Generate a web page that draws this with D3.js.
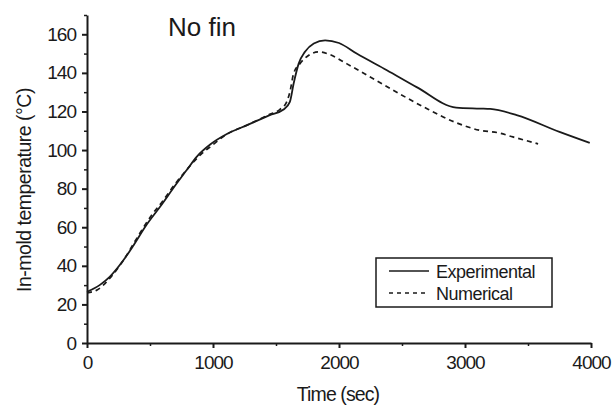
<!DOCTYPE html>
<html>
<head>
<meta charset="utf-8">
<script src="https://cdn.jsdelivr.net/npm/d3@7"></script>
<style>
  body { margin: 0; background: #fff; }
  text { font-family: "Liberation Sans", Arial, sans-serif; fill: #1a1a1a; }
</style>
</head>
<body>
<script>
let w = 613;
let h = 407;

// experimental curve (time in sec, temperature in C)
let expTime = [0, 100, 180, 290, 370, 470, 580, 710, 790, 870, 980, 1110, 1270, 1450, 1560, 1610, 1640, 1680, 1730, 1800, 1890, 2000, 2140, 2380, 2620, 2930, 3120, 3200, 3410, 3750, 3990];
let expTemp = [26.5, 30, 34.3, 43, 50.7, 61, 70.6, 82.5, 89.5, 96.5, 103, 108.3, 112.9, 118.1, 121, 125, 134.5, 144.8, 150.9, 155.2, 156.9, 155.5, 150, 141.4, 132.5, 122, 121.5, 121.3, 118.1, 109.4, 103.7];

// numerical curve
let numTime = [0, 80, 200, 300, 400, 510, 600, 700, 800, 900, 1000, 1100, 1270, 1450, 1530, 1585, 1610, 1640, 1690, 1760, 1840, 1920, 2060, 2350, 2670, 2930, 3120, 3260, 3380, 3580];
let numTemp = [26, 27.5, 35, 44, 54.8, 66, 73.5, 82.5, 90.5, 97.5, 102.8, 107.8, 112.9, 118.5, 121, 125, 130, 139.7, 144.8, 149.1, 150.9, 149.7, 144.8, 134, 122.4, 114.2, 110.2, 109, 106.8, 103.2];

let xTicks = [0, 1000, 2000, 3000, 4000];
let yTicks = [0, 20, 40, 60, 80, 100, 120, 140, 160];
let legendNames = ["Experimental", "Numerical"];

let ink = "#1a1a1a";

let svg = d3.select("body")
            .append("svg")
            .attr("width", w)
            .attr("height", h);

let xScale = d3.scaleLinear()
               .domain([0, 4000])
               .range([87, 591]);

let yScale = d3.scaleLinear()
               .domain([0, 170])
               .range([343, 15]);

// minor ticks first so the main axis draws over them
svg.append("g")
   .attr("transform", "translate(0," + yScale(0) + ")")
   .call(d3.axisBottom(xScale).tickValues([500, 1500, 2500, 3500]).tickSize(3).tickFormat("").tickSizeOuter(0))
   .call(g => g.select(".domain").remove())
   .call(g => g.selectAll("line").attr("stroke", ink).attr("stroke-width", 1.5));

svg.append("g")
   .attr("transform", "translate(" + xScale(0) + ",0)")
   .call(d3.axisLeft(yScale).tickValues(d3.range(10, 171, 20)).tickSize(3).tickFormat("").tickSizeOuter(0))
   .call(g => g.select(".domain").remove())
   .call(g => g.selectAll("line").attr("stroke", ink).attr("stroke-width", 1.5));

let xAxis = d3.axisBottom(xScale)
              .tickValues(xTicks)
              .tickFormat(d3.format("d"))
              .tickSize(5)
              .tickPadding(8)
              .tickSizeOuter(0);

let yAxis = d3.axisLeft(yScale)
              .tickValues(yTicks)
              .tickFormat(d3.format("d"))
              .tickSize(5)
              .tickPadding(6)
              .tickSizeOuter(0);

svg.append("g")
   .attr("id", "x-axis")
   .attr("transform", "translate(0," + yScale(0) + ")")
   .call(xAxis)
   .call(g => g.selectAll("line, path").attr("stroke", ink).attr("stroke-width", 2))
   .call(g => g.selectAll("text").attr("fill", ink).style("font-size", "19px").style("letter-spacing", "-1px"));

svg.append("g")
   .attr("id", "y-axis")
   .attr("transform", "translate(" + xScale(0) + ",0)")
   .call(yAxis)
   .call(g => g.selectAll("line, path").attr("stroke", ink).attr("stroke-width", 2))
   .call(g => g.selectAll("text").attr("fill", ink).style("font-size", "19px").style("letter-spacing", "-1px"));

// curves
let line = d3.line()
             .x(d => xScale(d[0]))
             .y(d => yScale(d[1]))
             .curve(d3.curveMonotoneX);

let expData = expTime.map((t, i) => [t, expTemp[i]]);
let numData = numTime.map((t, i) => [t, numTemp[i]]);

svg.append("path")
   .datum(numData)
   .attr("fill", "none")
   .attr("stroke", ink)
   .attr("stroke-width", 1.7)
   .attr("stroke-dasharray", "5,4")
   .attr("d", line);

svg.append("path")
   .datum(expData)
   .attr("fill", "none")
   .attr("stroke", ink)
   .attr("stroke-width", 1.8)
   .attr("d", line);

// title
svg.append("text")
   .attr("x", 168)
   .attr("y", 36)
   .style("font-size", "26px")
   .text("No fin");

// axis titles
svg.append("text")
   .attr("x", 338)
   .attr("y", 401)
   .attr("text-anchor", "middle")
   .style("font-size", "19.5px")
   .style("letter-spacing", "-0.9px")
   .text("Time (sec)");

svg.append("text")
   .attr("transform", "translate(31,190) rotate(-90)")
   .attr("text-anchor", "middle")
   .style("font-size", "19.5px")
   .style("letter-spacing", "-0.5px")
   .text("In-mold temperature (°C)");

// legend
let legend = svg.append("g").attr("id", "legend");

legend.append("rect")
      .attr("x", 376)
      .attr("y", 258)
      .attr("width", 176)
      .attr("height", 49)
      .attr("fill", "none")
      .attr("stroke", ink)
      .attr("stroke-width", 1.5);

let items = legend.selectAll(".item")
    .data(legendNames)
    .enter().append("g")
    .attr("class", "item")
    .attr("transform", (d, i) => "translate(0," + (271 + i * 22) + ")");

items.append("line")
     .attr("x1", 389)
     .attr("x2", 429)
     .attr("stroke", ink)
     .attr("stroke-width", 1.5)
     .attr("stroke-dasharray", (d, i) => i == 1 ? "4,4" : null);

items.append("text")
     .attr("x", 436)
     .attr("y", 7)
     .style("font-size", "18px")
     .style("letter-spacing", "-0.5px")
     .text(d => d);
</script>
</body>
</html>
